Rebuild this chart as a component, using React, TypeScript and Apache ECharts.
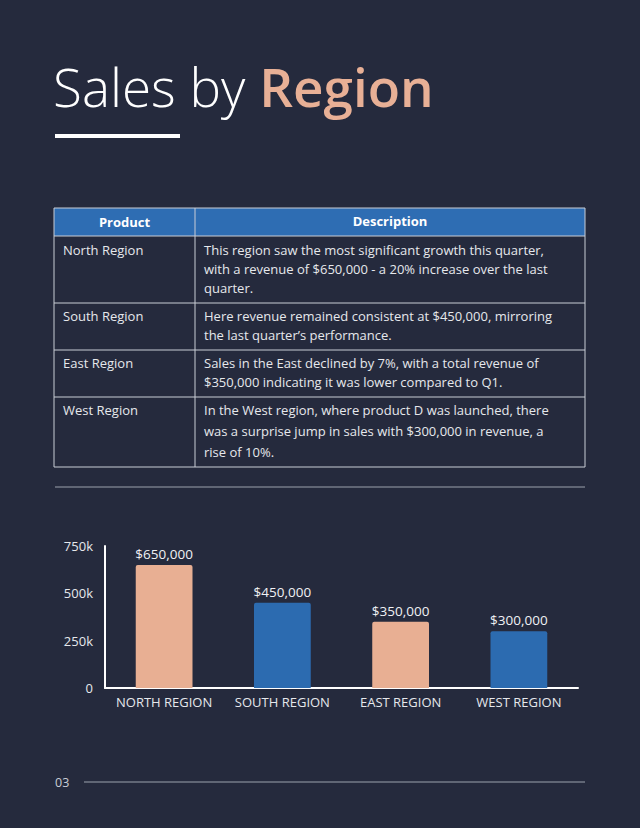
import React, { useEffect, useRef } from "react";
import * as echarts from "echarts";

const categories = ["NORTH REGION", "SOUTH REGION", "EAST REGION", "WEST REGION"];
const revenues = [650000, 450000, 350000, 300000];
const valueLabels = ["$650,000", "$450,000", "$350,000", "$300,000"];
const barColors = ["#E8AF93", "#2C6BB0", "#E8AF93", "#2C6BB0"];
const yTicks = [0, 250000, 500000, 750000];
const yTickLabels = ["0", "250k", "500k", "750k"];

const tableHeaders = ["Product", "Description"];
const tableRegions = ["North Region", "South Region", "East Region", "West Region"];
const tableDescriptions = [
  [
    "This region saw the most significant growth this quarter,",
    "with a revenue of $650,000 - a 20% increase over the last",
    "quarter.",
  ],
  ["Here revenue remained consistent at $450,000, mirroring", "the last quarter\u2019s performance."],
  ["Sales in the East declined by 7%, with a total revenue of", "$350,000 indicating it was lower compared to Q1."],
  [
    "In the West region, where product D was launched, there",
    "was a surprise jump in sales with $300,000 in revenue, a",
    "rise of 10%.",
  ],
];

const BG = "#252A3D";
const FONT = "'Open Sans', Lato, sans-serif";

export default function App() {
  const ref = useRef<HTMLDivElement>(null);
  useEffect(() => {
    document.body.style.margin = "0";
    const chart = echarts.init(ref.current!, null, { renderer: "svg" });

    const tableX0 = 54;
    const tableX1 = 585;
    const colX = 195;
    const rowYs = [208, 236, 303, 350, 397, 467];
    const lineStartYs = [250, 316, 363, 410];
    const lineGaps = [19, 19, 19, 21];
    const borderColor = "#C9CDD6";

    const graphics: any[] = [];
    graphics.push({
      type: "text",
      left: 53,
      top: 60,
      style: {
        rich: {
          a: { fontFamily: "'Open Sans'", fontWeight: 300, fontSize: 53, fill: "#FFFFFF" },
          b: { fontFamily: "'Open Sans'", fontWeight: 600, fontSize: 53, fill: "#E8B096" },
        },
        text: "{a|Sales by }{b|Region}",
      },
    });
    graphics.push({
      type: "rect",
      shape: { x: 55, y: 134, width: 125, height: 4 },
      style: { fill: "#FFFFFF" },
    });
    graphics.push({
      type: "rect",
      shape: { x: tableX0, y: rowYs[0], width: tableX1 - tableX0, height: rowYs[1] - rowYs[0] },
      style: { fill: "#2E6DB3" },
    });
    graphics.push({
      type: "text",
      x: (tableX0 + colX) / 2,
      y: 222,
      style: { text: tableHeaders[0], fill: "#FFFFFF", fontFamily: FONT, fontWeight: "bold", fontSize: 13, align: "center", verticalAlign: "middle" },
    });
    graphics.push({
      type: "text",
      x: (colX + tableX1) / 2,
      y: 221,
      style: { text: tableHeaders[1], fill: "#FFFFFF", fontFamily: FONT, fontWeight: "bold", fontSize: 13, align: "center", verticalAlign: "middle" },
    });
    rowYs.forEach((y) => {
      graphics.push({
        type: "line",
        shape: { x1: tableX0, y1: y, x2: tableX1, y2: y },
        style: { stroke: borderColor, lineWidth: 1 },
      });
    });
    [tableX0, colX, tableX1].forEach((x) => {
      graphics.push({
        type: "line",
        shape: { x1: x, y1: rowYs[0], x2: x, y2: rowYs[rowYs.length - 1] },
        style: { stroke: borderColor, lineWidth: 1 },
      });
    });
    tableRegions.forEach((r, i) => {
      graphics.push({
        type: "text",
        x: 63,
        y: lineStartYs[i],
        style: { text: r, fill: "#E6E8EC", fontFamily: FONT, fontSize: 13, verticalAlign: "middle" },
      });
      tableDescriptions[i].forEach((line, j) => {
        graphics.push({
          type: "text",
          x: 204,
          y: lineStartYs[i] + j * lineGaps[i],
          style: { text: line, fill: "#E6E8EC", fontFamily: FONT, fontSize: 13, verticalAlign: "middle" },
        });
      });
    });
    graphics.push({
      type: "line",
      shape: { x1: 55, y1: 487, x2: 585, y2: 487 },
      style: { stroke: "#9CA1AD", lineWidth: 1 },
    });
    graphics.push({
      type: "text",
      x: 55,
      y: 782,
      style: { text: "03", fill: "#C9CDD6", fontFamily: FONT, fontSize: 12.5, verticalAlign: "middle" },
    });
    graphics.push({
      type: "line",
      shape: { x1: 84, y1: 782, x2: 585, y2: 782 },
      style: { stroke: "#9CA1AD", lineWidth: 1.2 },
    });

    chart.setOption({
      animation: false,
      backgroundColor: BG,
      grid: { left: 105, right: 62, top: 546, bottom: 140, containLabel: false },
      xAxis: {
        type: "category",
        data: categories,
        axisLine: { show: true, lineStyle: { color: "#FFFFFF", width: 2 } },
        axisTick: { show: false },
        axisLabel: { color: "#E6E8EC", fontFamily: FONT, fontSize: 13, margin: 7, interval: 0 },
      },
      yAxis: {
        type: "value",
        min: yTicks[0],
        max: yTicks[yTicks.length - 1],
        interval: yTicks[1] - yTicks[0],
        axisLine: { show: true, lineStyle: { color: "#FFFFFF", width: 2 } },
        axisTick: { show: false },
        splitLine: { show: false },
        axisLabel: {
          color: "#E6E8EC",
          fontFamily: FONT,
          fontSize: 13,
          margin: 12,
          formatter: (v: number) => yTickLabels[yTicks.indexOf(v)] ?? String(v),
        },
      },
      series: [
        {
          type: "bar",
          barWidth: "48%",
          data: revenues.map((v, i) => ({ value: v, itemStyle: { color: barColors[i], borderRadius: [2, 2, 0, 0] } })),
          label: {
            show: true,
            position: "top",
            distance: 4,
            color: "#F0F1F4",
            fontFamily: FONT,
            fontSize: 13.5,
            formatter: (p: any) => valueLabels[p.dataIndex],
          },
        },
      ],
      graphic: graphics,
    });
    return () => chart.dispose();
  }, []);
  return <div ref={ref} style={{ width: 640, height: 828, position: "absolute", left: 0, top: 0 }} />;
}
